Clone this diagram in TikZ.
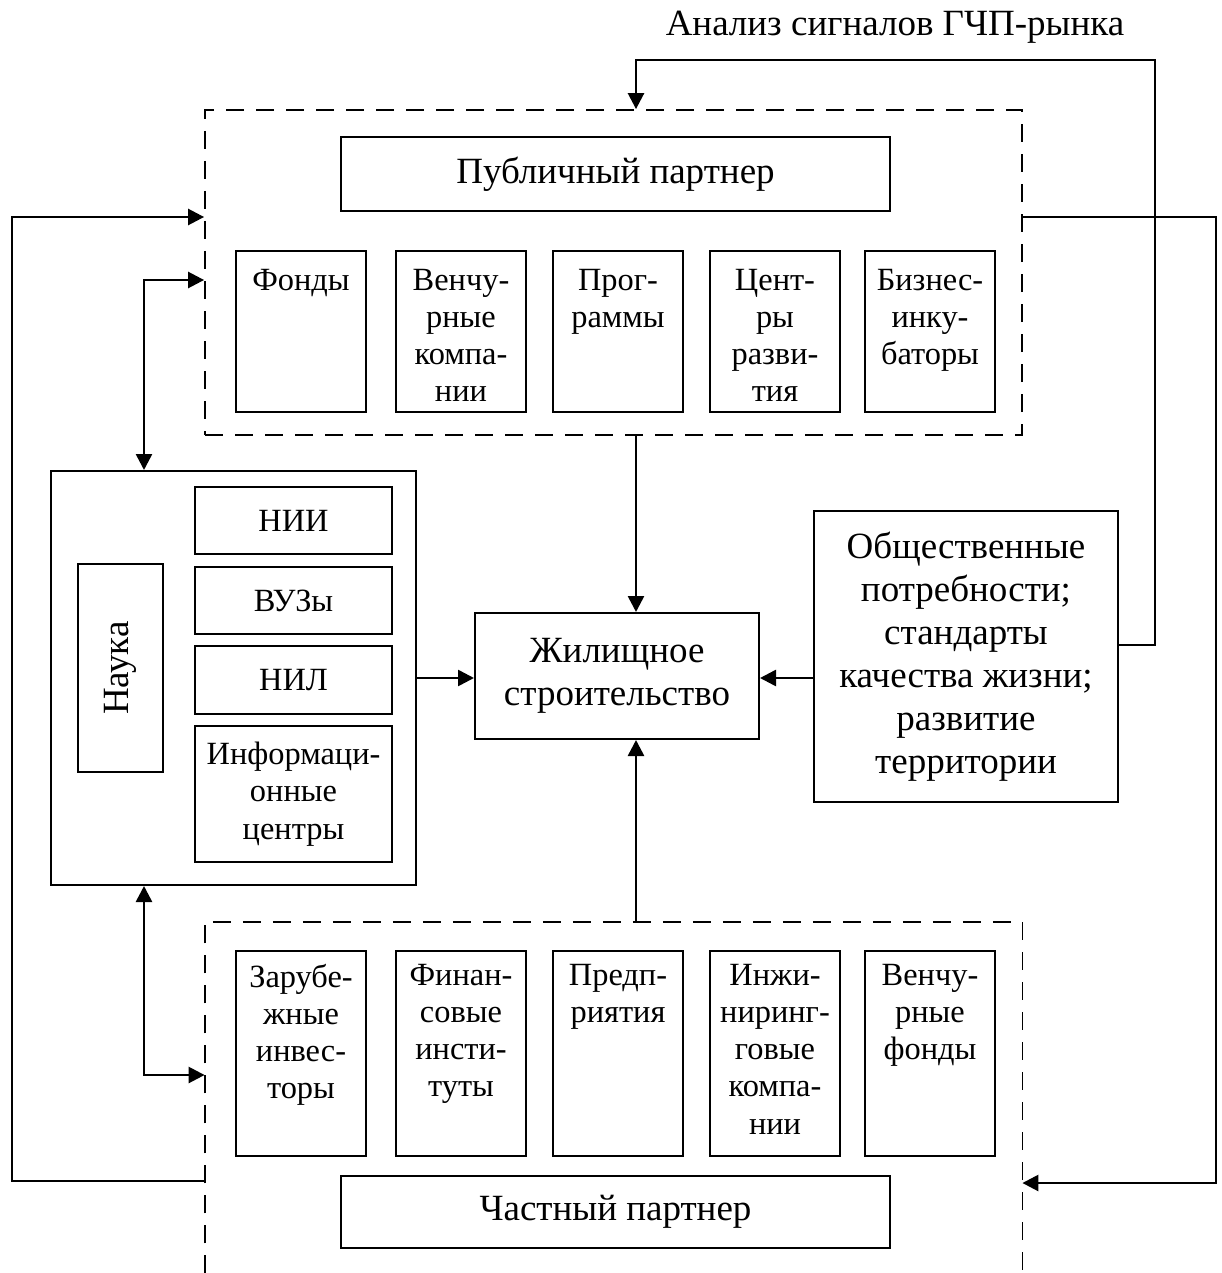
\documentclass[tikz,border=0pt]{standalone}
\usepackage{fontspec}
\setmainfont{Liberation Serif}
\usetikzlibrary{arrows.meta}
\newcommand{\cellt}[4]{\parbox[c][#2][t]{#1}{\centering\vspace*{#3}#4\par}}
\tikzset{
  box/.style={draw, line width=1pt, inner sep=0pt, anchor=north west},
  zone/.style={draw, dash pattern=on 9pt off 6pt, line width=0.9pt, inner sep=0pt},
  conn/.style={line width=1.3pt},
  arr/.style={conn, -{Triangle[length=8pt,width=8pt]}},
  darr/.style={conn, {Triangle[length=8pt,width=8pt]}-{Triangle[length=8pt,width=8pt]}},
  small/.style={font=\fontsize{16.2}{18.6}\selectfont},
  big/.style={font=\fontsize{18.5}{21.5}\selectfont},
}
\begin{document}
\begin{tikzpicture}[x=0.5pt,y=-0.5pt]
\useasboundingbox (0,0) rectangle (1221,1273);

% title
\node[big, anchor=center] (title) at (895,27) {Анализ сигналов ГЧП-рынка};

% public partner zone
\node[zone, minimum width=408.5pt, minimum height=162.5pt] (pubzone) at (613.5,272.5) {};
\node[box, big, minimum width=274.5pt, minimum height=37pt, anchor=center] (pub) at (615.5,174) {Публичный партнер};

\node[box, small] (fonds) at (235,250) {\cellt{65pt}{80.5pt}{9pt}{Фонды}};
\node[box, small] (venc)  at (395,250) {\cellt{65pt}{80.5pt}{9pt}{Венчу-\\рные\\компа-\\нии}};
\node[box, small] (prog)  at (552,250) {\cellt{65pt}{80.5pt}{9pt}{Прог-\\раммы}};
\node[box, small] (centr) at (709,250) {\cellt{65pt}{80.5pt}{9pt}{Цент-\\ры\\разви-\\тия}};
\node[box, small] (biz)   at (864,250) {\cellt{65pt}{80.5pt}{9pt}{Бизнес-\\инку-\\баторы}};

% science
\node[box, minimum width=182.5pt, minimum height=207pt] (nauka) at (50,470) {};
\node[box, minimum width=42.5pt, minimum height=104pt] (naukain) at (77,563) {};
\node[big, rotate=90] (naukat) at (naukain.center) {Наука};
\node[box, small, minimum width=98.5pt, minimum height=33.5pt] (nii) at (194,486) {НИИ};
\node[box, small, minimum width=98.5pt, minimum height=33.5pt] (vuz) at (194,566) {ВУЗы};
\node[box, small, minimum width=98.5pt, minimum height=34pt] (nil) at (194,645) {НИЛ};
\node[box, small, minimum width=98.5pt, minimum height=68pt, align=center] (info) at (194,725) {Информаци-\\онные\\центры};

% housing
\node[box, big, minimum width=142pt, minimum height=63pt, align=center] (zhil) at (474,612) {Жилищное\\строительство};

% social needs
\node[box, big, minimum width=152pt, minimum height=145.5pt, align=center] (obsh) at (813,510) {Общественные\\потребности;\\стандарты\\качества жизни;\\развитие\\территории};

% private partner zone (open at the bottom)
\node[inner sep=0pt, minimum width=408.5pt, minimum height=175.5pt] (privzone) at (613.5,1097.5) {};
\draw[dash pattern=on 9pt off 6pt, line width=0.9pt] (privzone.south west) -- (privzone.north west) -- (privzone.north east) -- (privzone.south east);

\node[box, small] (zarub) at (235,950) {\cellt{65pt}{102.5pt}{6.5pt}{Зарубе-\\жные\\инвес-\\торы}};
\node[box, small] (fin)   at (395,950) {\cellt{65pt}{102.5pt}{6.5pt}{Финан-\\совые\\инсти-\\туты}};
\node[box, small] (pred)  at (552,950) {\cellt{65pt}{102.5pt}{6.5pt}{Предп-\\риятия}};
\node[box, small] (inzh)  at (709,950) {\cellt{65pt}{102.5pt}{6.5pt}{Инжи-\\ниринг-\\говые\\компа-\\нии}};
\node[box, small] (venf)  at (864,950) {\cellt{65pt}{102.5pt}{6.5pt}{Венчу-\\рные\\фонды}};

\node[box, big, minimum width=274.5pt, minimum height=36pt, anchor=center] (priv) at (615.5,1212) {Частный партнер};

% helper coordinates
\coordinate (mx) at (636,0);
\coordinate (my) at (0,678);
\coordinate (dx) at (144,0);
\coordinate (c1) at (1155,60);
\coordinate (c2) at (1216,217);
\coordinate (c3) at (12,1181);

% connectors
\draw[arr] (pubzone.south -| mx) -- (zhil.north -| mx);
\draw[arr] (privzone.north -| mx) -- (zhil.south -| mx);
\draw[arr] (nauka.east |- my) -- (zhil.west |- my);
\draw[arr] (obsh.west |- my) -- (zhil.east |- my);

\draw[arr] (obsh.east |- 0,645) -| (c1) -| (pubzone.north -| mx);
\draw[arr] (pubzone.east |- c2) -| (c2 |- 0,1183) -- (privzone.east |- 0,1183);
\draw[arr] (privzone.west |- c3) -| (c3 |- c2) -- (pubzone.west |- c2);

\draw[darr] (pubzone.west |- 0,280) -| (nauka.north -| dx);
\draw[darr] (nauka.south -| dx) |- (privzone.west |- 0,1075);
\end{tikzpicture}
\end{document}
